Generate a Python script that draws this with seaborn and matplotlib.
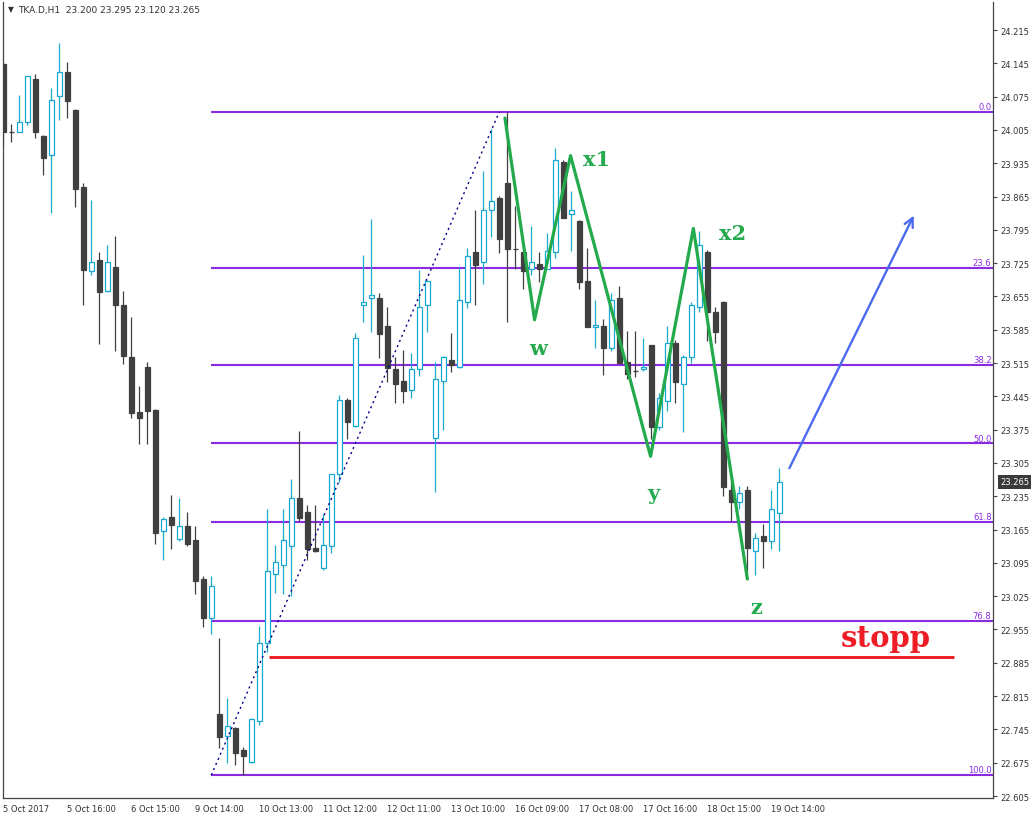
import matplotlib
matplotlib.use('Agg')
import matplotlib.pyplot as plt
from matplotlib.patches import Rectangle
import seaborn as sns
import pandas as pd

# hourly candles, TKA.D H1, 5 Oct 2017 .. 19 Oct 2017
opens = [24.144, 24.001, 24.001, 24.021, 24.112, 23.993, 23.952, 24.077, 24.126, 24.047,
         23.886, 23.708, 23.732, 23.666, 23.717, 23.637, 23.528, 23.412, 23.507, 23.416,
         23.161, 23.191, 23.146, 23.173, 23.143, 23.061, 22.980, 22.777, 22.731, 22.748,
         22.701, 22.676, 22.762, 22.926, 23.071, 23.091, 23.131, 23.231, 23.201, 23.126,
         23.085, 23.131, 23.281, 23.437, 23.382, 23.636, 23.651, 23.652, 23.593, 23.503,
         23.477, 23.458, 23.502, 23.636, 23.357, 23.477, 23.521, 23.506, 23.643, 23.748,
         23.727, 23.836, 23.862, 23.893, 23.755, 23.748, 23.713, 23.723, 23.713, 23.748,
         23.937, 23.828, 23.814, 23.687, 23.591, 23.592, 23.546, 23.652, 23.517, 23.498,
         23.502, 23.553, 23.381, 23.436, 23.557, 23.472, 23.527, 23.632, 23.748, 23.622,
         23.643, 23.248, 23.222, 23.248, 23.121, 23.151, 23.142, 23.200]
highs = [24.148, 24.017, 24.078, 24.118, 24.123, 23.995, 24.093, 24.188, 24.148, 24.050,
         23.893, 23.858, 23.748, 23.763, 23.782, 23.666, 23.612, 23.467, 23.517, 23.418,
         23.192, 23.238, 23.231, 23.202, 23.173, 23.067, 23.068, 22.937, 22.811, 22.750,
         22.707, 22.768, 22.963, 23.208, 23.133, 23.208, 23.271, 23.372, 23.217, 23.217,
         23.198, 23.282, 23.448, 23.442, 23.578, 23.742, 23.818, 23.662, 23.633, 23.528,
         23.542, 23.537, 23.711, 23.690, 23.517, 23.530, 23.578, 23.717, 23.757, 23.837,
         23.919, 24.007, 23.867, 24.042, 23.846, 23.750, 23.803, 23.748, 23.788, 23.966,
         23.942, 23.877, 23.815, 23.757, 23.648, 23.607, 23.662, 23.678, 23.582, 23.582,
         23.568, 23.553, 23.452, 23.593, 23.563, 23.532, 23.644, 23.793, 23.753, 23.632,
         23.646, 23.264, 23.256, 23.256, 23.158, 23.177, 23.248, 23.295]
lows = [23.971, 23.980, 24.000, 24.015, 23.987, 23.911, 23.830, 24.026, 24.031, 23.842,
        23.636, 23.701, 23.555, 23.665, 23.541, 23.512, 23.400, 23.345, 23.345, 23.135,
        23.102, 23.124, 23.141, 23.131, 23.030, 22.961, 22.946, 22.705, 22.675, 22.671,
        22.649, 22.675, 22.755, 22.907, 23.031, 23.030, 23.026, 23.184, 23.102, 23.118,
        23.081, 23.116, 23.264, 23.355, 23.380, 23.602, 23.581, 23.526, 23.476, 23.432,
        23.432, 23.441, 23.487, 23.581, 23.244, 23.375, 23.497, 23.505, 23.631, 23.636,
        23.682, 23.781, 23.746, 23.602, 23.713, 23.671, 23.701, 23.686, 23.712, 23.736,
        23.820, 23.751, 23.671, 23.590, 23.546, 23.490, 23.540, 23.515, 23.482, 23.486,
        23.498, 23.355, 23.375, 23.415, 23.432, 23.371, 23.516, 23.622, 23.562, 23.557,
        23.236, 23.183, 23.208, 23.072, 23.070, 23.085, 23.124, 23.120]
closes = [24.001, 24.001, 24.021, 24.118, 24.001, 23.947, 24.067, 24.126, 24.066, 23.881,
          23.711, 23.727, 23.665, 23.727, 23.636, 23.530, 23.411, 23.400, 23.415, 23.157,
          23.187, 23.175, 23.172, 23.135, 23.056, 22.980, 23.046, 22.730, 22.752, 22.696,
          22.690, 22.767, 22.926, 23.077, 23.096, 23.143, 23.231, 23.190, 23.124, 23.120,
          23.133, 23.281, 23.437, 23.392, 23.567, 23.643, 23.658, 23.577, 23.505, 23.472,
          23.457, 23.503, 23.632, 23.687, 23.481, 23.527, 23.511, 23.647, 23.741, 23.722,
          23.836, 23.856, 23.776, 23.755, 23.755, 23.708, 23.727, 23.713, 23.751, 23.941,
          23.820, 23.836, 23.686, 23.591, 23.596, 23.546, 23.648, 23.516, 23.491, 23.498,
          23.507, 23.381, 23.442, 23.557, 23.476, 23.527, 23.637, 23.763, 23.622, 23.581,
          23.255, 23.222, 23.241, 23.126, 23.147, 23.142, 23.208, 23.265]

time_labels = ['5 Oct 2017', '5 Oct 16:00', '6 Oct 15:00', '9 Oct 14:00', '10 Oct 13:00',
               '11 Oct 12:00', '12 Oct 11:00', '13 Oct 10:00', '16 Oct 09:00', '17 Oct 08:00',
               '17 Oct 16:00', '18 Oct 15:00', '19 Oct 14:00']
price_ticks = [22.605, 22.675, 22.745, 22.815, 22.885, 22.955, 23.025, 23.095, 23.165, 23.235,
               23.305, 23.375, 23.445, 23.515, 23.585, 23.655, 23.725, 23.795, 23.865, 23.935,
               24.005, 24.075, 24.145, 24.215]

# fibonacci retracement, from the 9 Oct low to the 13 Oct high
fib_high = 24.043
fib_low = 22.649
fib_pcts = [0.0, 23.6, 38.2, 50.0, 61.8, 76.8, 100.0]
fib_start_bar = 26
fib_end_bar = 62

# hand drawn wave count
wave_bars = [62.7, 66.4, 70.9, 80.9, 86.25, 93.0]
wave_prices = [24.030, 23.606, 23.951, 23.319, 23.798, 23.061]
wave_names = ['w', 'x1', 'y', 'x2', 'z']
wave_label_bars = [66.8, 74.1, 81.3, 91.2, 94.05]
wave_label_prices = [23.547, 23.944, 23.242, 23.788, 23.002]

stop_price = 22.897
stop_bars = [33.25, 118.8]
arrow_from = (98.25, 23.294)
arrow_to = (113.8, 23.825)

BULL = '#17a9cf'
BEAR = '#404040'
FIB = '#8a2be2'
GREEN = '#22aa4c'

sns.set_theme(style='white')
plt.rcParams['font.family'] = ['DejaVu Sans']

fig = plt.figure(figsize=(10.33, 8.2), dpi=100)
ax = fig.add_axes([2.5 / 1033, 21 / 820, 990.5 / 1033, 796 / 820])

n = len(opens)
bars = list(range(n))

# wicks then bodies
wick_colors = [BULL if closes[i] > opens[i] else BEAR for i in bars]
ax.vlines(bars, lows, highs, colors=wick_colors, linewidth=0.9, zorder=2)
for i in bars:
    o, c = opens[i], closes[i]
    if c > o:
        ax.add_patch(Rectangle((i - 0.28, o), 0.56, c - o, facecolor='white',
                               edgecolor=BULL, linewidth=0.9, zorder=3))
    else:
        ax.add_patch(Rectangle((i - 0.3, c), 0.6, o - c, facecolor=BEAR,
                               edgecolor=BEAR, linewidth=0.9, zorder=3))

# fibo levels
fib_levels = [fib_high - p / 100 * (fib_high - fib_low) for p in fib_pcts]
x_right = 123.7
ax.hlines(fib_levels, fib_start_bar, x_right, colors=FIB, linewidth=1.5, zorder=1)
for lvl, pct in zip(fib_levels, fib_pcts):
    ax.text(0.9985, lvl + 0.002, f'{pct:.1f}', transform=ax.get_yaxis_transform(),
            ha='right', va='bottom', fontsize=6, color=FIB)

trend = pd.DataFrame({'bar': [fib_start_bar, fib_end_bar], 'price': [fib_low, fib_high]})
sns.lineplot(data=trend, x='bar', y='price', ax=ax, color='#00008b', linewidth=1,
             linestyle=(0, (1.5, 2.5)), zorder=4)

# wave zigzag
waves = pd.DataFrame({'bar': wave_bars, 'price': wave_prices})
sns.lineplot(data=waves, x='bar', y='price', ax=ax, sort=False, color=GREEN,
             linewidth=2.3, zorder=5)
for name, bx, py in zip(wave_names, wave_label_bars, wave_label_prices):
    ax.text(bx, py, name, ha='center', va='center', fontsize=15, fontweight='bold',
            family='DejaVu Serif', color=GREEN, zorder=6)

# stop line and target arrow
ax.hlines(stop_price, stop_bars[0], stop_bars[1], colors='#ee1c24', linewidth=2.1, zorder=5)
ax.text(104.7, 22.920, 'stopp', ha='left', va='baseline', fontsize=21, fontweight='bold',
        family='DejaVu Serif', color='#ee1c24', zorder=6)
ax.annotate('', xy=arrow_to, xytext=arrow_from,
            arrowprops=dict(arrowstyle='->', color='#4b6bef', lw=1.7, mutation_scale=16,
                            shrinkA=0, shrinkB=0), zorder=6)

# axes look like the terminal window
ax.set_xlim(-0.1, x_right)
ax.set_ylim(22.6008, 24.2739)
ax.set_xlabel('')
ax.set_ylabel('')
ax.set_xticks(list(range(0, n, 8)))
ax.set_xticklabels(time_labels, ha='left')
ax.set_yticks(price_ticks)
ax.set_yticklabels([f'{t:.3f}' for t in price_ticks])
ax.yaxis.tick_right()
ax.tick_params(axis='both', which='both', direction='out', length=3, width=0.8,
               colors='#444444', labelsize=6, labelcolor='#333333', pad=2)
ax.tick_params(axis='x', pad=1.5)
for side in ['left', 'right', 'bottom']:
    ax.spines[side].set_visible(True)
    ax.spines[side].set_color('#444444')
    ax.spines[side].set_linewidth(0.9)
ax.spines['top'].set_visible(False)
ax.grid(False)

# last price tag
ax.text(1.007, closes[-1], f'{closes[-1]:.3f}', transform=ax.get_yaxis_transform(),
        ha='left', va='center', fontsize=6, color='white', clip_on=False,
        bbox=dict(boxstyle='square,pad=0.25', facecolor='#3a3a3a', edgecolor='none'))

fig.text(8 / 1033, 1 - 10 / 820, '\u25bc', fontsize=5.5, color='#333333', va='center')
fig.text(18 / 1033, 1 - 10 / 820, 'TKA.D,H1  23.200 23.295 23.120 23.265',
         fontsize=6.5, color='#333333', va='center')

fig.savefig('out.png', dpi=100, facecolor='white')
